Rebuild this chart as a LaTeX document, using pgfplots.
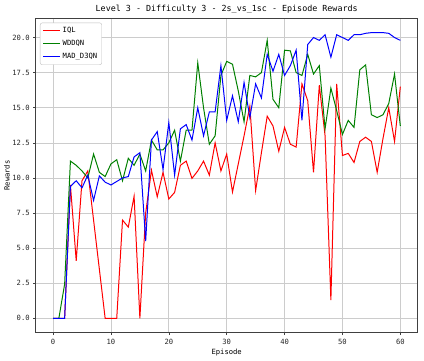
\documentclass[border=0pt]{standalone}
\usepackage{fontspec}
\setmainfont{DejaVu Sans Mono}
\usepackage{pgfplots}
\usepackage{pgfplotstable}
\pgfplotsset{compat=1.18}
\definecolor{mplred}{HTML}{FF0000}
\definecolor{mplgreen}{HTML}{008000}
\definecolor{mplblue}{HTML}{0000FF}
\pgfplotstableread{
e v
0 0
1 0
2 0
3 9.5
4 4.1
5 9.8
6 10.5
7 7.0
8 3.5
9 0
10 0
11 0
12 7.0
13 6.5
14 8.7
15 0
16 7.5
17 10.55
18 8.66
19 10.4
20 8.5
21 8.97
22 10.9
23 11.2
24 9.97
25 10.5
26 11.2
27 10.2
28 12.5
29 10.5
30 11.7
31 9.0
32 11.0
33 13.0
34 15.1
35 9.1
36 11.8
37 14.4
38 13.7
39 11.9
40 13.6
41 12.4
42 12.2
43 16.7
44 15.5
45 10.4
46 16.6
47 13.0
48 1.3
49 16.7
50 11.6
51 11.75
52 11.1
53 12.6
54 12.9
55 12.6
56 10.4
57 12.8
58 15.0
59 12.6
60 16.5
}\iql
\pgfplotstableread{
e v
0 0
1 0
2 2.44
3 11.2
4 10.9
5 10.5
6 10.0
7 11.7
8 10.4
9 10.1
10 11.0
11 11.3
12 9.8
13 11.4
14 10.9
15 11.7
16 10.5
17 12.7
18 12.0
19 12.0
20 12.5
21 13.4
22 11.2
23 13.4
24 13.4
25 18.2
26 15.0
27 12.4
28 13.0
29 17.3
30 18.3
31 18.1
32 16.2
33 14.0
34 17.3
35 17.2
36 17.5
37 19.8
38 15.6
39 15.0
40 19.1
41 19.05
42 17.5
43 17.3
44 18.8
45 17.4
46 18.0
47 13.5
48 16.4
49 14.8
50 13.1
51 14.1
52 13.6
53 17.7
54 18.05
55 14.5
56 14.3
57 14.5
58 15.3
59 17.4
60 13.7
}\wddqn
\pgfplotstableread{
e v
0 0
1 0
2 0
3 9.4
4 9.8
5 9.3
6 10.2
7 8.4
8 10.15
9 9.7
10 9.5
11 9.75
12 10.0
13 10.1
14 11.5
15 11.8
16 5.5
17 12.7
18 13.3
19 10.6
20 13.95
21 10.2
22 13.5
23 13.8
24 12.7
25 15.0
26 13.0
27 14.7
28 14.7
29 18.0
30 14.1
31 15.85
32 14.0
33 16.8
34 14.3
35 16.7
36 15.7
37 18.8
38 17.6
39 18.8
40 17.3
41 18.0
42 19.1
43 14.1
44 19.5
45 20.0
46 19.8
47 20.2
48 18.6
49 20.2
50 20.0
51 19.8
52 20.2
53 20.2
54 20.3
55 20.35
56 20.35
57 20.35
58 20.3
59 20.0
60 19.8
}\madd
\begin{document}
\begin{tikzpicture}
\useasboundingbox (-35.7bp,-28.3bp) rectangle (388.3bp,332.7bp);
\begin{axis}[
  at={(0,0)}, anchor=south west,
  scale only axis, width=382bp, height=314.4bp,
  xmin=-3, xmax=63, ymin=-1.02, ymax=21.37,
  xtick={0,10,20,30,40,50,60},
  ytick={0,2.5,5,7.5,10,12.5,15,17.5,20},
  grid=major,
  major grid style={color=black!20, line width=0.7pt},
  axis line style={black!75, line width=0.7pt},
  tick align=outside, tick pos=left,
  major tick length=2.5bp,
  every tick/.style={black!75, line width=0.6pt},
  /pgf/number format/assume math mode=true,
  ticklabel style={font=\fontsize{7.2}{8}\selectfont, black!85},
  yticklabel style={/pgf/number format/.cd, fixed, fixed zerofill, precision=1},
  xticklabel style={/pgf/number format/.cd, fixed, precision=0},
  every axis title shift=0pt,
  title={Level 3 - Difficulty 3 - 2s\_vs\_1sc - Episode Rewards},
  title style={font=\fontsize{8.4}{10}\selectfont, at={(axis description cs:0.5,1.0296)}, anchor=center},
  xlabel={Episode}, ylabel={Rewards},
  xlabel style={font=\fontsize{7.2}{8}\selectfont, at={(axis description cs:0.5,-0.062)}, anchor=center},
  ylabel style={font=\fontsize{7.2}{8}\selectfont, at={(axis description cs:-0.0751,0.5)}, anchor=center},
  legend style={at={(axis description cs:0,1)}, anchor=north west, xshift=4.3bp, yshift=-4.4bp,
    draw=black!25, rounded corners=2bp, fill=white, font=\fontsize{7.2}{8}\selectfont,
    row sep=2.2bp, inner sep=2.5bp},
  legend cell align=left,
]
\addplot[mplred, line width=1pt] table[x=e, y=v] {\iql};
\addlegendentry{IQL}
\addplot[mplgreen, line width=1pt] table[x=e, y=v] {\wddqn};
\addlegendentry{WDDQN}
\addplot[mplblue, line width=1pt] table[x=e, y=v] {\madd};
\addlegendentry{MAD\_D3QN}
\end{axis}
\end{tikzpicture}
\end{document}
